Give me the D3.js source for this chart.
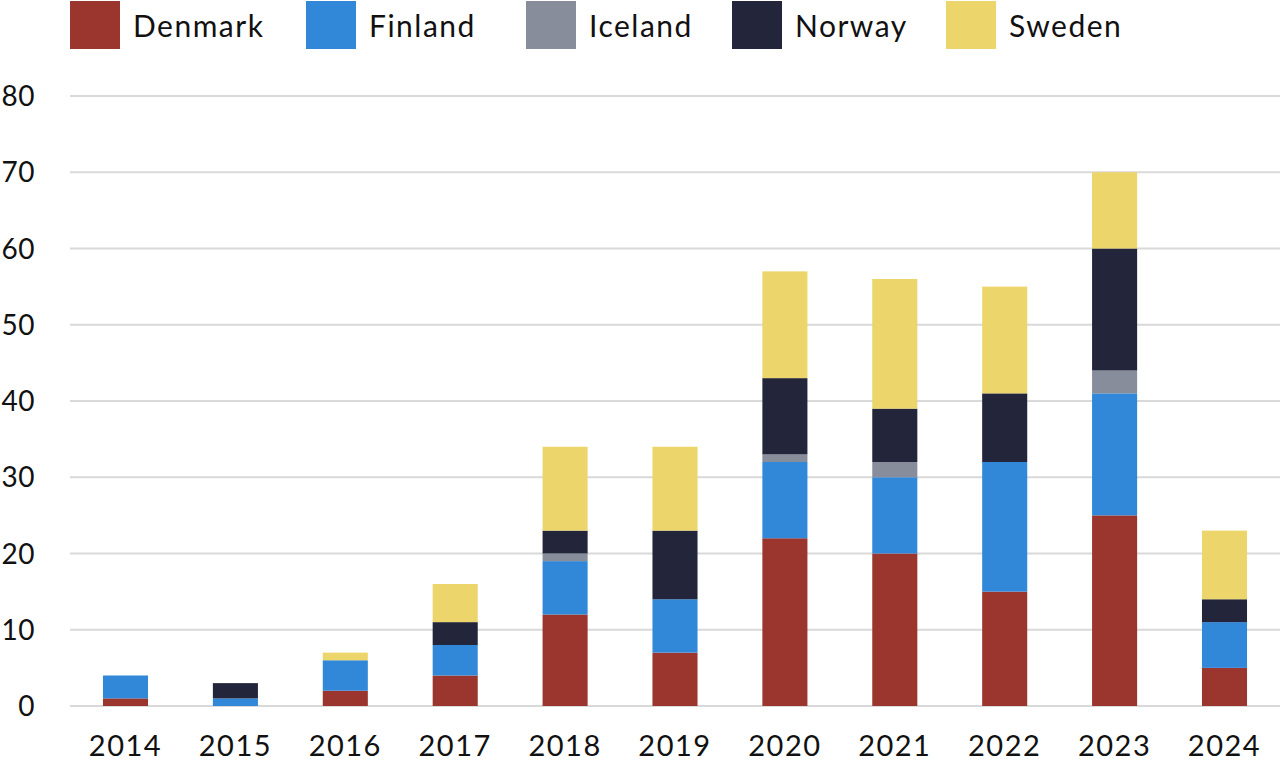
<!DOCTYPE html>
<html>
<head>
<meta charset="utf-8">
<script src="https://cdn.jsdelivr.net/npm/d3@7"></script>
<style>
  body { margin: 0; background: #fff; }
  text { font-family: Lato, "Noto Sans", sans-serif; fill: #111; }
</style>
</head>
<body>
<div id="chart"></div>
<script>
var years = ["2014","2015","2016","2017","2018","2019","2020","2021","2022","2023","2024"];
var countries = ["Denmark","Finland","Iceland","Norway","Sweden"];
var colors = ["#9b362e","#3187d8","#878d9b","#23263a","#ecd56a"];
var denmark = [1, 0, 2, 4, 12, 7, 22, 20, 15, 25, 5];
var finland = [3, 1, 4, 4, 7, 7, 10, 10, 17, 16, 6];
var iceland = [0, 0, 0, 0, 1, 0, 1, 2, 0, 3, 0];
var norway  = [0, 2, 0, 3, 3, 9, 10, 7, 9, 16, 3];
var sweden  = [0, 0, 1, 5, 11, 11, 14, 17, 14, 10, 9];
var yTicks = [0, 10, 20, 30, 40, 50, 60, 70, 80];

var rows = years.map(function(y, i) {
    return {year: y, Denmark: denmark[i], Finland: finland[i], Iceland: iceland[i], Norway: norway[i], Sweden: sweden[i]};
});

var W = 1280, H = 761;
var margin = {top: 96, right: 0, bottom: 55, left: 70};
var height = H - margin.top - margin.bottom;

var svg = d3.select("#chart").append("svg")
    .attr("width", W)
    .attr("height", H);

var xScale = d3.scaleBand()
    .domain(years)
    .range([margin.left, W - margin.right])
    .paddingInner(0.59)
    .paddingOuter(0.3);

var yScale = d3.scaleLinear()
    .domain([0, 80])
    .range([margin.top + height, margin.top]);

var color = d3.scaleOrdinal().domain(countries).range(colors);

// gridlines
svg.append("g")
   .selectAll("line")
   .data(yTicks)
   .enter()
   .append("line")
   .attr("x1", margin.left)
   .attr("x2", W)
   .attr("y1", d => yScale(d))
   .attr("y2", d => yScale(d))
   .attr("stroke", "#d9d9d9")
   .attr("stroke-width", 2);

// y labels
svg.append("g")
   .selectAll("text")
   .data(yTicks)
   .enter()
   .append("text")
   .attr("x", 35)
   .attr("y", d => yScale(d) + 10)
   .attr("text-anchor", "end")
   .style("font-size", "28px")
   .style("letter-spacing", "0.5px")
   .text(d => d);

// stacked bars
var stacked = d3.stack().keys(countries)(rows);

svg.append("g")
   .selectAll("g")
   .data(stacked)
   .enter()
   .append("g")
   .attr("fill", d => color(d.key))
   .selectAll("rect")
   .data(d => d)
   .enter()
   .append("rect")
   .attr("x", d => xScale(d.data.year))
   .attr("width", xScale.bandwidth())
   .attr("y", d => yScale(d[1]))
   .attr("height", d => yScale(d[0]) - yScale(d[1]));

// x labels
svg.append("g")
   .selectAll("text")
   .data(years)
   .enter()
   .append("text")
   .attr("x", d => xScale(d) + xScale.bandwidth() / 2)
   .attr("y", 756)
   .attr("text-anchor", "middle")
   .style("font-size", "29px")
   .style("letter-spacing", "1.5px")
   .text(d => d);

// legend
var legendX = [70, 306, 526, 732, 946];
var legend = svg.append("g")
    .selectAll("g")
    .data(countries)
    .enter()
    .append("g")
    .attr("transform", (d, i) => "translate(" + legendX[i] + ",1)");

legend.append("rect")
      .attr("width", 50)
      .attr("height", 48)
      .attr("fill", d => color(d));

legend.append("text")
      .attr("x", 63)
      .attr("y", 36)
      .style("font-size", "30px")
      .style("letter-spacing", "1.5px")
      .text(d => d);
</script>
</body>
</html>
